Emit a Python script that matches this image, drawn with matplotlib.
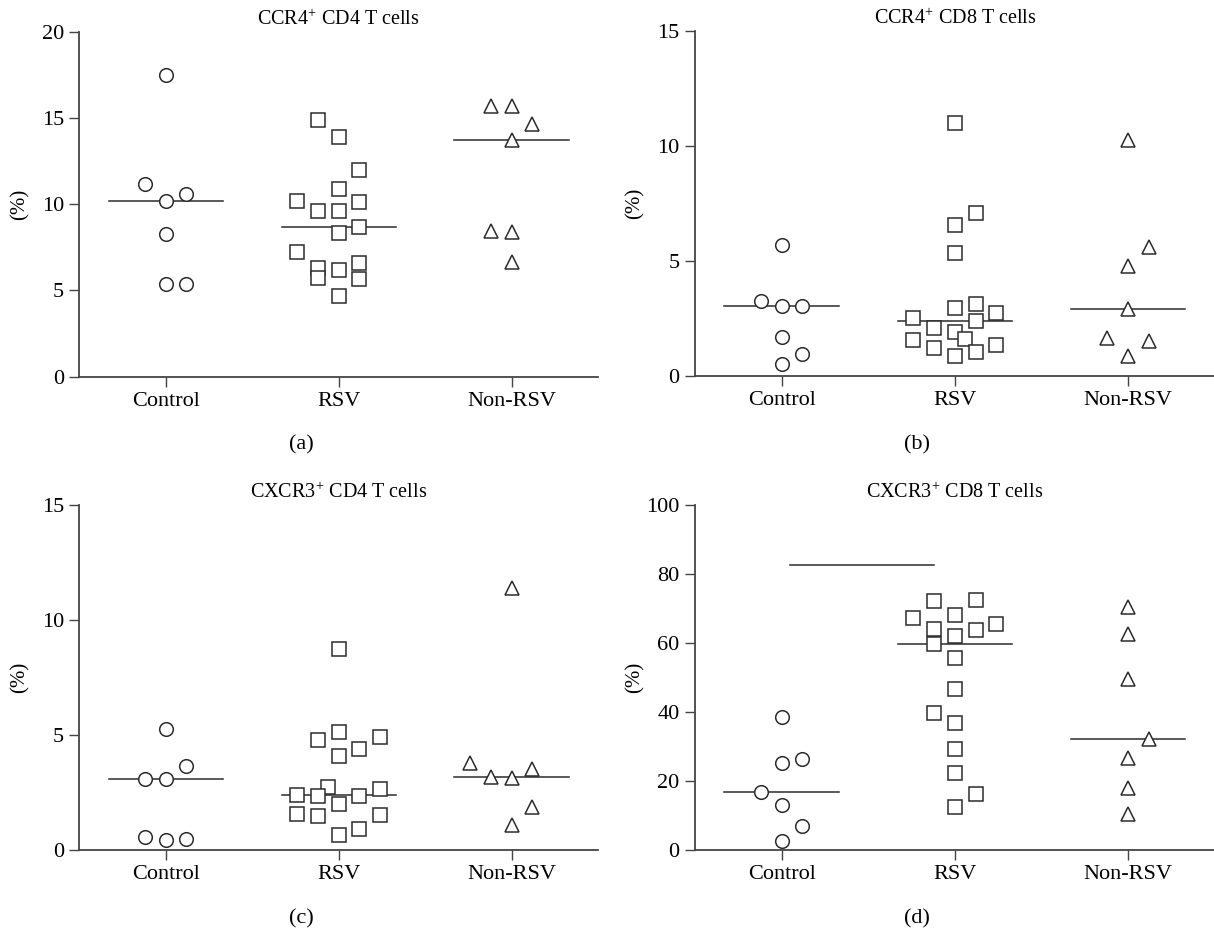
import numpy as np
import matplotlib
matplotlib.use('Agg')
import matplotlib.pyplot as plt

plt.rcParams['font.family'] = ['Liberation Serif', 'DejaVu Serif']
plt.rcParams['mathtext.fontset'] = 'custom'
plt.rcParams['mathtext.rm'] = 'Liberation Serif'

groups = ['Control', 'RSV', 'Non-RSV']

# (a) CCR4+ CD4
ctrl_a = [17.5, 11.2, 10.2, 10.6, 8.3, 5.35, 5.35]
rsv_a = [14.9, 13.9, 12.0, 10.9, 10.2, 10.1, 9.6, 9.6, 8.7, 8.35, 7.25, 6.3, 5.7, 6.2, 6.6, 5.65, 4.65]
non_a = [15.7, 15.7, 14.65, 13.75, 8.45, 8.4, 6.65]

# (b) CCR4+ CD8
ctrl_b = [5.7, 3.25, 3.03, 3.03, 1.67, 0.94, 0.49]
rsv_b = [11.0, 7.06, 6.55, 5.35, 3.12, 2.93, 2.71, 2.52, 2.39, 2.09, 1.91, 1.58, 1.55, 1.33, 1.22, 1.01, 0.86]
non_b = [10.25, 5.61, 4.78, 2.88, 1.65, 1.51, 0.86]

# (c) CXCR3+ CD4
ctrl_c = [5.27, 3.65, 3.1, 3.1, 0.58, 0.43, 0.46]
rsv_c = [8.74, 5.14, 4.92, 4.78, 4.40, 4.08, 2.75, 2.64, 2.37, 2.35, 2.35, 2.01, 1.55, 1.52, 1.48, 0.90, 0.65]
non_c = [11.37, 3.76, 3.53, 3.19, 3.11, 1.88, 1.09]

# (d) CXCR3+ CD8
ctrl_d = [38.6, 26.3, 25.3, 16.8, 13.0, 7.1, 2.6]
rsv_d = [72.5, 72.2, 67.3, 68.1, 65.6, 64.2, 63.8, 62.0, 59.6, 55.6, 46.6, 39.6, 36.7, 29.4, 22.2, 16.1, 12.6]
non_d = [70.4, 62.7, 49.5, 32.1, 26.8, 18.1, 10.3]
bar_d_x = [0.05, 0.88]
bar_d_y = 82.7

# swarm columns (in units of one marker step) for each point
slots_a = [[0, -1, 0, 1, 0, 0, 1],
           [-1, 0, 1, 0, -2, 1, -1, 0, 1, 0, -2, -1, -1, 0, 1, 1, 0],
           [-1, 0, 1, 0, -1, 0, 0]]
slots_b = [[0, -1, 0, 1, 0, 1, 0],
           [0, 1, 0, 0, 1, 0, 2, -2, 1, -1, 0, 0.5, -2, 2, -1, 1, 0],
           [0, 1, 0, 0, -1, 1, 0]]
slots_c = [[0, 1, -1, 0, -1, 0, 1],
           [0, 0, 2, -1, 1, 0, -0.5, 2, -2, -1, 1, 0, -2, 2, -1, 1, 0],
           [0, -2, 1, -1, 0, 1, 0]]
slots_d = [[0, 1, 0, -1, 0, 1, 0],
           [1, -1, -2, 0, 2, -1, 1, 0, -1, 0, 0, -1, 0, 0, 0, 1, 0],
           [0, 0, 0, 1, 0, 0, 0]]

STEP = 0.12
markers = ['o', 's', '^']
INK = '#2b2b2b'
W, H = 1214, 932


def draw_panel(ax, data, slots, title, ymax, ystep):
    for i, (vals, sl) in enumerate(zip(data, slots)):
        xs = i + np.array(sl) * STEP
        ax.plot(xs, vals, linestyle='none', marker=markers[i], ms=9.8,
                mfc='white', mec=INK, mew=1.1, zorder=3)
        med = np.median(vals)
        ax.plot([i - 0.33, i + 0.33], [med, med], color=INK, lw=1.1, zorder=2)

    ax.set_xlim(-0.5, 2.5)
    ax.set_ylim(0, ymax)
    ax.set_yticks(np.arange(0, ymax + 1, ystep))
    ax.set_xticks(range(len(groups)))
    ax.set_xticklabels(groups)
    for side in ['top', 'right']:
        ax.spines[side].set_visible(False)
    for side in ['left', 'bottom']:
        ax.spines[side].set_color('#444444')
        ax.spines[side].set_linewidth(1.3)
    ax.tick_params(length=7, width=1.0, color='#444444', labelsize=16, pad=4)
    ax.set_title(title, fontsize=14.5, pad=5)
    ax.set_ylabel('(%)', fontsize=15, va='center')
    ax.yaxis.set_label_coords(-0.115, 0.5)


def main():
    fig = plt.figure(figsize=(W / 100, H / 100), dpi=100)
    ax_a = fig.add_axes([79.3 / W, 1 - 376.7 / H, 518.7 / W, 345 / H])
    ax_b = fig.add_axes([695 / W, 1 - 375.7 / H, 519.7 / W, 345 / H])
    ax_c = fig.add_axes([79.3 / W, 1 - 850 / H, 518.7 / W, 345.3 / H])
    ax_d = fig.add_axes([695 / W, 1 - 850 / H, 519.7 / W, 345 / H])

    draw_panel(ax_a, [ctrl_a, rsv_a, non_a], slots_a, r'CCR4$^{+}$ CD4 T cells', 20, 5)
    draw_panel(ax_b, [ctrl_b, rsv_b, non_b], slots_b, r'CCR4$^{+}$ CD8 T cells', 15, 5)
    draw_panel(ax_c, [ctrl_c, rsv_c, non_c], slots_c, r'CXCR3$^{+}$ CD4 T cells', 15, 5)
    draw_panel(ax_d, [ctrl_d, rsv_d, non_d], slots_d, r'CXCR3$^{+}$ CD8 T cells', 100, 20)
    ax_d.plot(bar_d_x, [bar_d_y, bar_d_y], color=INK, lw=1.1)

    for lab, x, y in [('(a)', 301, 445), ('(b)', 917, 445), ('(c)', 301, 919), ('(d)', 917, 919)]:
        fig.text(x / W, 1 - y / H, lab, ha='center', va='center', fontsize=16)

    fig.savefig('out.png', dpi=100)
    plt.close(fig)


if __name__ == '__main__':
    main()
